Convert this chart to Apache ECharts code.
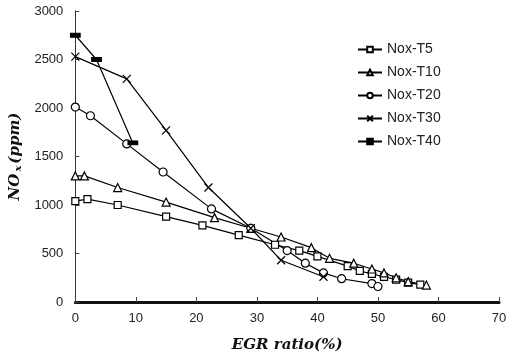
<!DOCTYPE html>
<html>
<head>
<meta charset="utf-8">
<script src="https://cdn.jsdelivr.net/npm/echarts@6/dist/echarts.min.js"></script>
<style>html,body{margin:0;padding:0;background:#fff}#c{width:510px;height:360px}</style>
</head>
<body>
<div id="c"></div>
<script>
const seriesNames = ['Nox-T5', 'Nox-T10', 'Nox-T20', 'Nox-T30', 'Nox-T40'];
const egrT5  = [0, 2, 7, 15, 21, 27, 33, 37, 40, 45, 47, 49, 51, 53, 55, 57];
const noxT5  = [1040, 1060, 1000, 880, 790, 690, 590, 530, 470, 370, 320, 290, 260, 230, 200, 180];
const egrT10 = [0, 1.5, 7, 15, 23, 29, 34, 39, 42, 46, 49, 51, 53, 55, 58];
const noxT10 = [1300, 1300, 1180, 1030, 870, 760, 670, 560, 450, 400, 340, 300, 250, 210, 175];
const egrT20 = [0, 2.5, 8.5, 14.5, 22.5, 29, 35, 38, 41, 44, 49, 50];
const noxT20 = [2010, 1920, 1630, 1340, 960, 760, 530, 400, 300, 240, 190, 160];
const egrT30 = [0, 8.5, 15, 22, 29, 34, 41];
const noxT30 = [2530, 2300, 1770, 1180, 760, 430, 260];
const egrT40 = [0, 3.5, 9.5];
const noxT40 = [2750, 2500, 1640];
const xTicks = [0, 10, 20, 30, 40, 50, 60, 70];
const yTicks = [0, 500, 1000, 1500, 2000, 2500, 3000];

const zip = (xs, ys) => xs.map((x, i) => [x, ys[i]]);
const xs = [egrT5, egrT10, egrT20, egrT30, egrT40];
const ys = [noxT5, noxT10, noxT20, noxT30, noxT40];
const symbols = ['rect', 'triangle', 'circle', 'path://M0,0L10,10M10,0L0,10', 'rect'];
const sizes = [7, 8, 8, 8, [9, 4]];
const fills = ['#fff', '#fff', '#fff', '#fff', '#000'];

const chart = echarts.init(document.getElementById('c'), null, {renderer: 'canvas'});
const labelFont = {fontFamily: 'Liberation Sans, Arial, sans-serif', fontSize: 13, color: '#222'};
chart.setOption({
  animation: false,
  backgroundColor: '#fff',
  grid: {left: 74, right: 11, top: 11, bottom: 58},
  legend: {
    orient: 'vertical', left: 352, top: 37, itemWidth: 24, itemHeight: 7, itemGap: 8,
    textStyle: {fontFamily: 'Liberation Sans, Arial, sans-serif', fontSize: 14, lineHeight: 15, color: '#222'},
    data: seriesNames
  },
  xAxis: [{
    type: 'value', min: 0, max: 70, interval: 10,
    name: 'EGR ratio(%)', nameLocation: 'middle', nameGap: 36,
    nameTextStyle: {fontFamily: 'DejaVu Serif, serif', fontWeight: 'bold', fontStyle: 'italic', fontSize: 15, color: '#111'},
    axisLine: {show: true, lineStyle: {color: '#666', width: 1, type: 'dashed'}},
    axisTick: {show: true, inside: true, length: 5, lineStyle: {color: '#444'}},
    axisLabel: Object.assign({margin: 10, formatter: v => xTicks.includes(v) ? String(v) : ''}, labelFont),
    splitLine: {show: false}
  }, {
    type: 'value', min: 0, max: 70, position: 'top',
    axisLine: {show: true, lineStyle: {color: '#111', width: 3}},
    axisTick: {show: false}, axisLabel: {show: false}, splitLine: {show: false}
  }],
  yAxis: [{
    type: 'value', min: 0, max: 3000, interval: 500,
    name: '{a|NO}{b|x}{a|(ppm)}', nameLocation: 'middle', nameGap: 41, nameRotate: 90,
    nameTextStyle: {
      rich: {
        a: {fontFamily: 'DejaVu Serif, serif', fontWeight: 'bold', fontStyle: 'italic', fontSize: 15, color: '#111'},
        b: {fontFamily: 'DejaVu Serif, serif', fontWeight: 'bold', fontStyle: 'italic', fontSize: 10, color: '#111', padding: [6, 2, 0, 2]}
      }
    },
    axisLine: {show: true, lineStyle: {color: '#777', width: 1, type: 'dashed'}},
    axisTick: {show: true, inside: true, length: 4, lineStyle: {color: '#444'}},
    axisLabel: Object.assign({margin: 12, formatter: v => yTicks.includes(v) ? String(v) : ''}, labelFont),
    splitLine: {show: false}
  }, {
    type: 'value', min: 0, max: 3000, position: 'right',
    axisLine: {show: true, lineStyle: {color: '#333', width: 1}},
    axisTick: {show: false}, axisLabel: {show: false}, splitLine: {show: false}
  }],
  series: seriesNames.map((name, i) => ({
    name, type: 'line', data: zip(xs[i], ys[i]),
    symbol: symbols[i], symbolSize: sizes[i], showSymbol: true,
    lineStyle: {color: '#000', width: 1.2},
    itemStyle: {color: fills[i], borderColor: '#000', borderWidth: 1.2},
    emphasis: {disabled: true}
  }))
});
</script>
</body>
</html>
